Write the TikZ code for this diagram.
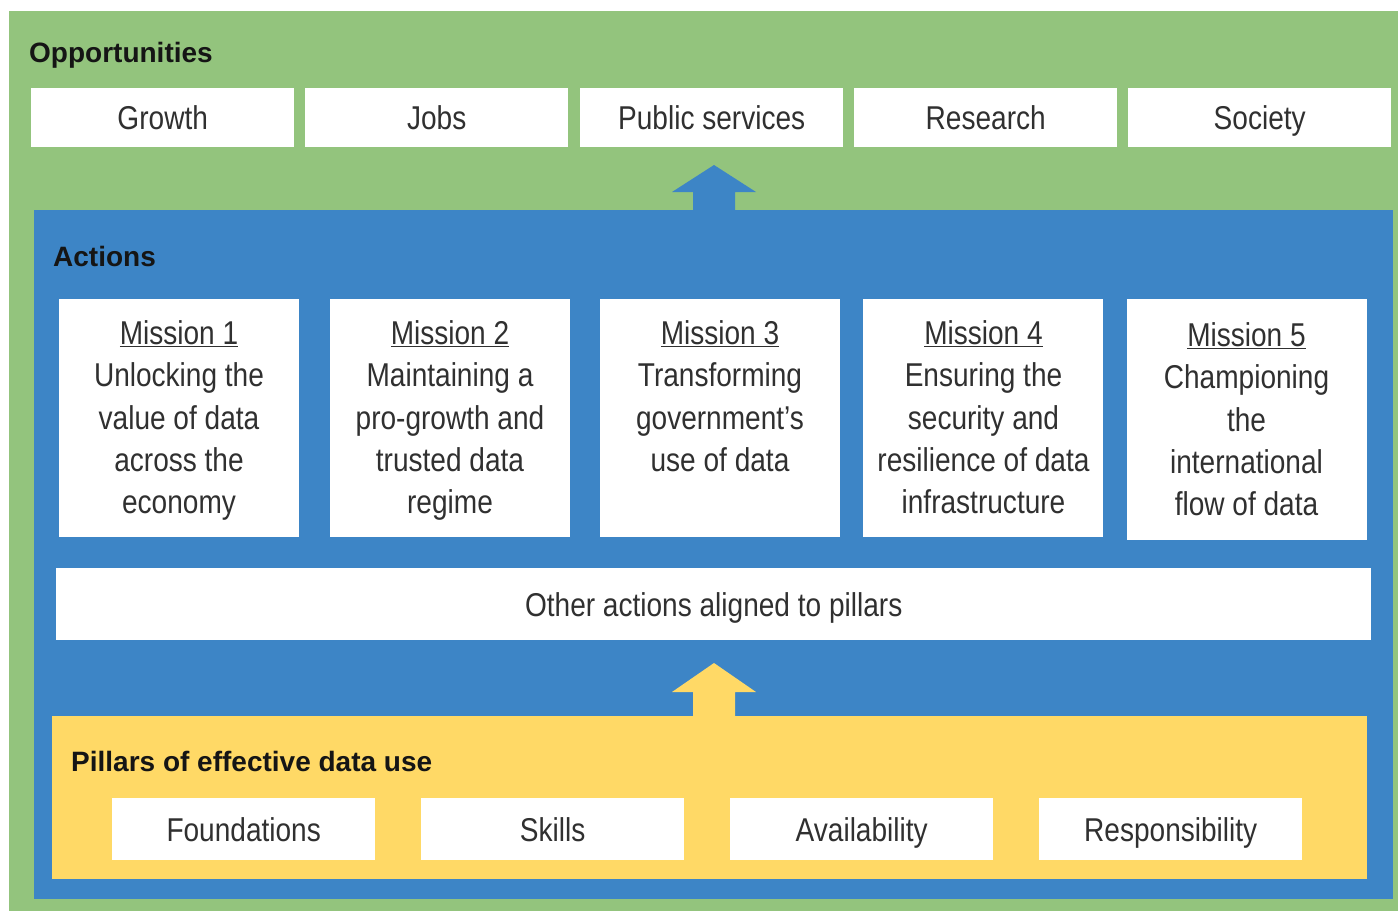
\documentclass[tikz,border=0pt]{standalone}
\usepackage{fontspec}
\setmainfont[FakeStretch=0.85]{Liberation Sans}
\newfontfamily\labfont{Liberation Sans}
\definecolor{gr}{HTML}{93C47D}
\definecolor{bl}{HTML}{3D85C6}
\definecolor{yl}{HTML}{FFD966}
\definecolor{txt}{HTML}{303030}
\definecolor{labtxt}{HTML}{151515}
\tikzset{
  tbox/.style={fill=white, inner sep=0pt, text=txt, font=\fontsize{33}{42.3}\selectfont,
    text height=23.6pt, text depth=0pt, anchor=north west},
  mbox/.style={fill=white, inner sep=0pt, anchor=north west, minimum width=240pt, minimum height=238pt},
  mtext/.style={inner sep=0pt, align=center, text=txt, font=\fontsize{33}{42.3}\selectfont, anchor=north},
  lab/.style={inner sep=0pt, anchor=west, text=labtxt, font=\labfont\bfseries\fontsize{28}{34}\selectfont,
    text height=20pt, text depth=0pt}
}
\begin{document}
\begin{tikzpicture}[x=1pt,y=-1pt]
\useasboundingbox (0,0) rectangle (1398,911);
\fill[white] (0,0) rectangle (1398,911);
% layers
\fill[gr] (9,11) rectangle (1398,911);
\fill[bl] (34,210) rectangle (1393,899);
\fill[yl] (52,716) rectangle (1367,879);
% block arrows
\fill[bl] (714,165) -- (756,192) -- (735,192) -- (735,211) -- (693,211) -- (693,192) -- (672,192) -- cycle;
\fill[yl] (714,663) -- (756,692) -- (735,692) -- (735,717) -- (693,717) -- (693,692) -- (672,692) -- cycle;
% labels
\node[lab] (opp) at (29,52) {Opportunities};
\node[lab] (act) at (53,256) {Actions};
\node[lab] (pil) at (71,761) {Pillars of effective data use};
% opportunities
\node[tbox, minimum width=263pt, minimum height=59pt] (growth) at (31,88) {Growth};
\node[tbox, minimum width=263pt, minimum height=59pt] (jobs) at (305,88) {Jobs};
\node[tbox, minimum width=263pt, minimum height=59pt] (public) at (580,88) {Public services};
\node[tbox, minimum width=263pt, minimum height=59pt] (research) at (854,88) {Research};
\node[tbox, minimum width=263pt, minimum height=59pt] (society) at (1128,88) {Society};
% missions
\node[mbox] (m1) at (59,299) {};
\node[mbox] (m2) at (330,299) {};
\node[mbox] (m3) at (600,299) {};
\node[mbox] (m4) at (863,299) {};
\node[mbox, minimum height=241pt] (m5) at (1127,299) {};
\node[mtext] (m1t) at (179,320.5) {\underline{Mission 1}\\Unlocking the\\value of data\\across the\\economy};
\node[mtext] (m2t) at (450,320.5) {\underline{Mission 2}\\Maintaining a\\pro-growth and\\trusted data\\regime};
\node[mtext] (m3t) at (720,320.5) {\underline{Mission 3}\\Transforming\\government’s\\use of data};
\node[mtext] (m4t) at (983.5,320.5) {\underline{Mission 4}\\Ensuring the\\security and\\resilience of data\\infrastructure};
\node[mtext] (m5t) at (1246.5,322.5) {\underline{Mission 5}\\Championing\\the\\international\\flow of data};
% other actions
\node[tbox, minimum width=1315pt, minimum height=72pt] (other) at (56,568) {Other actions aligned to pillars};
% pillars
\node[tbox, minimum width=263pt, minimum height=62pt] (found) at (112,798) {Foundations};
\node[tbox, minimum width=263pt, minimum height=62pt] (skills) at (421,798) {Skills};
\node[tbox, minimum width=263pt, minimum height=62pt] (avail) at (730,798) {Availability};
\node[tbox, minimum width=263pt, minimum height=62pt] (resp) at (1039,798) {Responsibility};
\end{tikzpicture}
\end{document}
